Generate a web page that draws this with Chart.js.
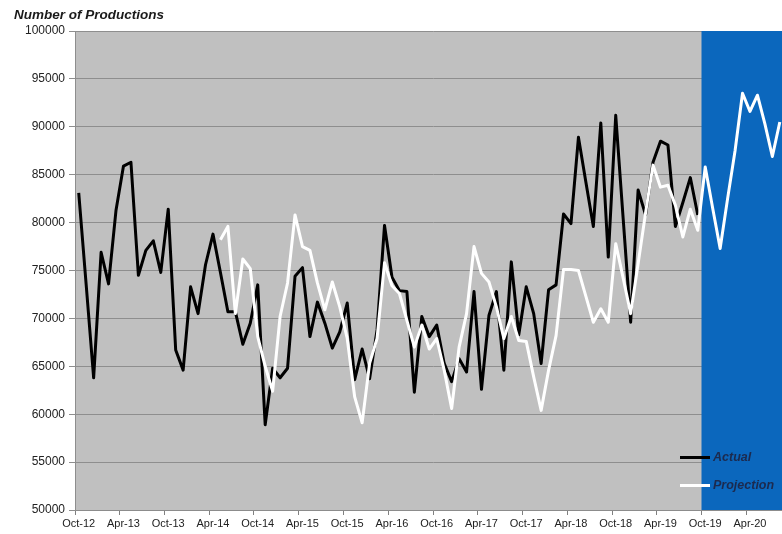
<!DOCTYPE html>
<html>
<head>
<meta charset="utf-8">
<script src="https://cdn.jsdelivr.net/npm/chart.js@4"></script>
<style>
  html, body { margin: 0; padding: 0; background: #fff; overflow: hidden; }
  #wrap { position: relative; width: 800px; height: 534px; }
  .title { position: absolute; left: 14px; top: 7px; font: italic bold 13.5px "Liberation Sans", Arial, sans-serif; color: #1a1a1a; }
  .leg { position: absolute; font: italic bold 12.5px "Liberation Sans", Arial, sans-serif; color: #1c2a4e; }
  .leg span { display: inline-block; width: 30px; height: 3px; vertical-align: middle; margin-right: 3px; }
</style>
</head>
<body>
<div id="wrap">
  <canvas id="prod" width="800" height="534"></canvas>
  <div class="title">Number of Productions</div>
  <div class="leg" style="left:680px; top:450px;"><span style="background:#000"></span>Actual</div>
  <div class="leg" style="left:680px; top:478px;"><span style="background:#fff"></span>Projection</div>
</div>
<script>
// months Oct-12 .. Sep-20
const months = [
  'Oct-12','Nov-12','Dec-12',
  'Jan-13','Feb-13','Mar-13','Apr-13','May-13','Jun-13','Jul-13','Aug-13','Sep-13','Oct-13','Nov-13','Dec-13',
  'Jan-14','Feb-14','Mar-14','Apr-14','May-14','Jun-14','Jul-14','Aug-14','Sep-14','Oct-14','Nov-14','Dec-14',
  'Jan-15','Feb-15','Mar-15','Apr-15','May-15','Jun-15','Jul-15','Aug-15','Sep-15','Oct-15','Nov-15','Dec-15',
  'Jan-16','Feb-16','Mar-16','Apr-16','May-16','Jun-16','Jul-16','Aug-16','Sep-16','Oct-16','Nov-16','Dec-16',
  'Jan-17','Feb-17','Mar-17','Apr-17','May-17','Jun-17','Jul-17','Aug-17','Sep-17','Oct-17','Nov-17','Dec-17',
  'Jan-18','Feb-18','Mar-18','Apr-18','May-18','Jun-18','Jul-18','Aug-18','Sep-18','Oct-18','Nov-18','Dec-18',
  'Jan-19','Feb-19','Mar-19','Apr-19','May-19','Jun-19','Jul-19','Aug-19','Sep-19','Oct-19','Nov-19','Dec-19',
  'Jan-20','Feb-20','Mar-20','Apr-20','May-20','Jun-20','Jul-20','Aug-20','Sep-20'
];

const actual = [
  83100, 73500, 63800,
  76900, 73600, 81300, 85900, 86300, 74500, 77100, 78100, 74800, 81400, 66700, 64600,
  73300, 70500, 75600, 78800, 74800, 70700, 70700, 67300, 69500, 73500, 58900, 64800,
  63800, 64800, 74400, 75300, 68100, 71700, 69500, 66900, 68600, 71600, 63600, 66800,
  63700, 68800, 79700, 74300, 72900, 72800, 62300, 70200, 68100, 69300, 65300, 63400,
  65800, 64400, 72800, 62600, 70300, 72800, 64600, 75900, 68300, 73300, 70500, 65300,
  73000, 73500, 80900, 79900, 88900, 84200, 79600, 90400, 76400, 91200, 80400, 69600,
  83400, 80800, 86300, 88500, 88100, 79600, 82100, 84700, 80800
];

const projection = [
  null, null, null,
  null, null, null, null, null, null, null, null, null, null, null, null,
  null, null, null, null, 78200, 79600, 70500, 76200, 75200, 68100, 65000, 62400,
  70200, 73700, 80800, 77500, 77100, 73700, 70900, 73800, 71200, 67900, 61800, 59100,
  65300, 67900, 75800, 73400, 72600, 69800, 67000, 69300, 66800, 67900, 64600, 60600,
  67000, 70500, 77500, 74700, 73800, 71200, 67900, 70200, 67700, 67600, 63900, 60400,
  64600, 68200, 75100, 75100, 75000, 72300, 69600, 71000, 69600, 77800, 74200, 70500,
  75700, 81000, 86000, 83700, 83900, 81800, 78500, 81400, 79200, 85800, 81500, 77300,
  82500, 87500, 93500, 91600, 93300, 90300, 86900, 90500, null
];

const forecastStart = months.indexOf('Oct-19');

const shading = {
  id: 'shading',
  beforeDraw(chart) {
    const { ctx, chartArea: a } = chart;
    ctx.save();
    ctx.fillStyle = '#c0c0c0';
    ctx.fillRect(a.left, a.top, a.right - a.left, a.bottom - a.top);
    ctx.restore();
  },
  beforeDatasetsDraw(chart) {
    const { ctx, chartArea: a } = chart;
    const x = chart.scales.x;
    const half = (x.getPixelForValue(forecastStart + 1) - x.getPixelForValue(forecastStart)) / 2;
    const left = x.getPixelForValue(forecastStart) - half;
    ctx.save();
    ctx.fillStyle = '#0b67bd';
    ctx.fillRect(left, a.top, a.right - left, a.bottom - a.top);
    ctx.restore();
  }
};

const ctx = document.getElementById('prod');
const prodChart = new Chart(ctx, {
  type: 'line',
  data: {
    labels: months,
    datasets: [
      {
        label: 'Actual',
        data: actual,
        borderColor: '#000',
        borderWidth: 3,
        borderJoinStyle: 'round',
        pointRadius: 0,
        tension: 0,
        order: 1
      },
      {
        label: 'Projection',
        data: projection,
        borderColor: '#fff',
        borderWidth: 3,
        borderJoinStyle: 'round',
        pointRadius: 0,
        tension: 0,
        order: 0
      }
    ]
  },
  plugins: [shading],
  options: {
    responsive: false,
    animation: false,
    layout: { padding: { left: 14, top: 31, right: 9, bottom: 0 } },
    plugins: {
      legend: { display: false },
      tooltip: { enabled: false }
    },
    scales: {
      x: {
        offset: true,
        afterFit(scale) { scale.height = 24; },
        grid: {
          offset: true,
          drawOnChartArea: false,
          tickLength: 5,
          color: (c) => (c.index % 6 === 0 ? '#808080' : 'rgba(0,0,0,0)')
        },
        border: { color: '#8c8c8c' },
        ticks: {
          autoSkip: false,
          maxRotation: 0,
          padding: 2,
          color: '#222',
          font: { family: 'Liberation Sans', size: 11 },
          callback: (v, i) => (i % 6 === 0 ? months[i] : '')
        }
      },
      y: {
        min: 50000,
        max: 100000,
        afterFit(scale) { scale.width = 61; },
        grid: { color: '#8e8e8e', tickLength: 6 },
        border: { color: '#8e8e8e' },
        ticks: {
          stepSize: 5000,
          padding: 4,
          color: '#222',
          font: { family: 'Liberation Sans', size: 12 },
          callback: (v) => String(v)
        }
      }
    }
  }
});
</script>
</body>
</html>
